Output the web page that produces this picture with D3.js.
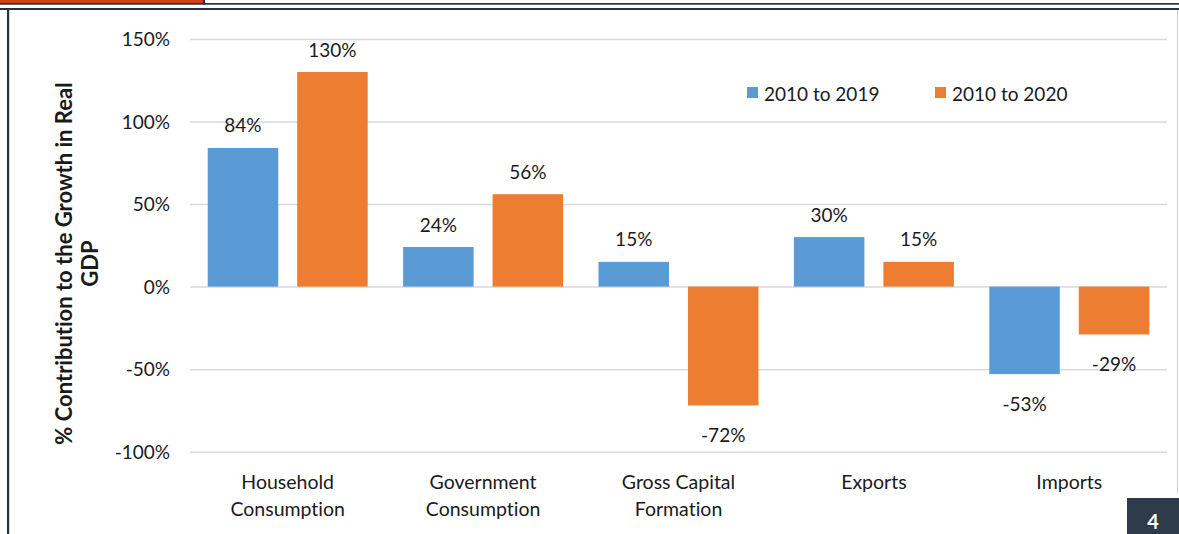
<!DOCTYPE html>
<html>
<head>
<meta charset="utf-8">
<script src="https://cdn.jsdelivr.net/npm/d3@7"></script>
<style>
  html, body { margin: 0; padding: 0; background: #fff; }
  svg { display: block; font-family: Lato, "Open Sans", sans-serif; font-variant-ligatures: none; }
</style>
</head>
<body>
<svg id="chart" width="1179" height="534"></svg>
<script>
// Contribution of each expenditure component to real GDP growth
const categories = [
  ["Household", "Consumption"],
  ["Government", "Consumption"],
  ["Gross Capital", "Formation"],
  ["Exports"],
  ["Imports"]
];
const seriesNames = ["2010 to 2019", "2010 to 2020"];
const values2019 = [84, 24, 15, 30, -53];
const values2020 = [130, 56, -72, 15, -29];
const tickValues = [-100, -50, 0, 50, 100, 150];
const colors = ["#5B9BD5", "#ED7D31"];
const pageNumber = "4";

const svg = d3.select("#chart");
const W = 1179, H = 534;
const textColor = "#1a1a1a";
const fontSize = 19;

// slide frame
svg.append("rect").attr("x", 0).attr("y", 0).attr("width", W).attr("height", H).attr("fill", "#fff");
svg.append("rect").attr("x", 0).attr("y", 3).attr("width", W).attr("height", 1.7).attr("fill", "#26323e");
svg.append("rect").attr("x", 0).attr("y", 0).attr("width", 203).attr("height", 3).attr("fill", "#d0401b");
svg.append("rect").attr("x", 203).attr("y", 0).attr("width", 2).attr("height", 4.7).attr("fill", "#26323e");
svg.append("rect").attr("x", 0).attr("y", 8).attr("width", W).attr("height", 2).attr("fill", "#26323e");
svg.append("rect").attr("x", 7).attr("y", 10).attr("width", 2.2).attr("height", H - 10).attr("fill", "#26323e");
svg.append("rect").attr("x", 1177).attr("y", 10).attr("width", 1).attr("height", 483).attr("fill", "#cfcfcf");

// scales
const x0 = d3.scaleBand().domain(d3.range(categories.length)).range([190, 1167]);
const x1 = d3.scaleBand().domain(seriesNames).range([0, x0.bandwidth()])
  .paddingInner(0.212).paddingOuter(0.198);
const y = d3.scaleLinear().domain([-100, 150]).range([451.7, 39]);

// gridlines
const grid = svg.append("g").attr("transform", "translate(190,0)")
  .call(d3.axisLeft(y).tickValues(tickValues).tickSize(-(1167 - 190)).tickFormat(""));
grid.select(".domain").remove();
grid.selectAll(".tick line").attr("stroke", "#d9d9d9").attr("stroke-width", 1.5);

// y axis labels
const yAxis = svg.append("g").attr("transform", "translate(190,0)")
  .call(d3.axisLeft(y).tickValues(tickValues).tickSize(0).tickPadding(20).tickFormat(d => d + "%"));
yAxis.select(".domain").remove();
yAxis.selectAll("text").attr("font-family", "Lato, sans-serif").attr("font-size", fontSize)
  .attr("fill", textColor).attr("dy", "0.35em");

// bars
const rows = categories.map((c, i) => ({ i, vals: [values2019[i], values2020[i]] }));
const groups = svg.append("g").selectAll("g").data(rows).join("g")
  .attr("transform", d => `translate(${x0(d.i)},0)`);
groups.selectAll("rect").data(d => d.vals.map((v, k) => ({ v, k })))
  .join("rect")
  .attr("x", d => x1(seriesNames[d.k]))
  .attr("width", x1.bandwidth())
  .attr("y", d => y(Math.max(0, d.v)))
  .attr("height", d => Math.abs(y(d.v) - y(0)))
  .attr("fill", d => colors[d.k]);

// value labels
groups.selectAll("text").data(d => d.vals.map((v, k) => ({ v, k })))
  .join("text")
  .attr("x", d => x1(seriesNames[d.k]) + x1.bandwidth() / 2)
  .attr("y", d => d.v >= 0 ? y(d.v) - 23 : y(d.v) + 29)
  .attr("text-anchor", "middle").attr("dominant-baseline", "central")
  .attr("font-size", fontSize).attr("fill", textColor)
  .text(d => d.v + "%");

// category labels
const cat = svg.append("g").selectAll("text").data(categories).join("text")
  .attr("x", (d, i) => x0(i) + x0.bandwidth() / 2)
  .attr("text-anchor", "middle").attr("font-size", 19.5).attr("fill", textColor);
cat.selectAll("tspan").data(d => d).join("tspan")
  .attr("x", function () { return d3.select(this.parentNode).attr("x"); })
  .attr("y", (d, j) => 481 + j * 27)
  .attr("dominant-baseline", "central")
  .text(d => d);

// axis title
const title = svg.append("text")
  .attr("transform", "translate(63,263.5) rotate(-90)")
  .attr("text-anchor", "middle").attr("font-weight", "bold")
  .attr("font-size", 22).attr("fill", textColor);
title.append("tspan").attr("x", 0).attr("y", 0).attr("dominant-baseline", "central")
  .text("% Contribution to the Growth in Real");
title.append("tspan").attr("x", 0).attr("y", 26).attr("dominant-baseline", "central")
  .text("GDP");

// legend
const legendX = [747, 935];
const legend = svg.append("g").selectAll("g").data(seriesNames).join("g")
  .attr("transform", (d, i) => `translate(${legendX[i]},87)`);
legend.append("rect").attr("width", 11).attr("height", 11).attr("fill", (d, i) => colors[i]);
legend.append("text").attr("x", 17).attr("y", 6).attr("dominant-baseline", "central")
  .attr("font-size", fontSize).attr("fill", textColor).text(d => d);

// page number
svg.append("rect").attr("x", 1127).attr("y", 498).attr("width", 52).attr("height", 36).attr("fill", "#2d3b4b");
svg.append("text").attr("x", 1153).attr("y", 521).attr("text-anchor", "middle")
  .attr("dominant-baseline", "central").attr("font-weight", "bold").attr("font-size", 20)
  .attr("fill", "#fff").text(pageNumber);
</script>
</body>
</html>
